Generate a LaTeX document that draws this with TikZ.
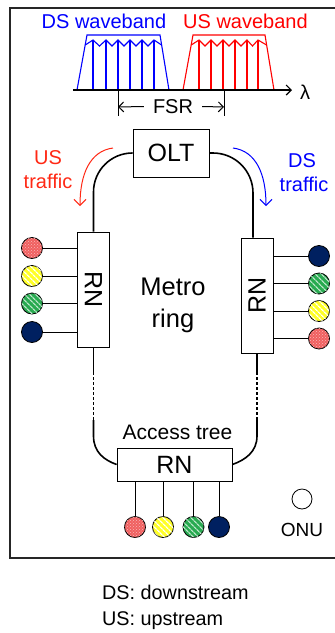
\documentclass[tikz,border=0pt]{standalone}
\usepackage{fontspec}
\setmainfont{Liberation Sans}
\usetikzlibrary{arrows.meta,patterns,patterns.meta}
\definecolor{navy}{RGB}{0,32,96}
\definecolor{onured}{RGB}{240,96,96}
\definecolor{onuyel}{RGB}{255,255,40}
\definecolor{onugrn}{RGB}{40,170,80}
\definecolor{usred}{RGB}{255,40,20}
\begin{document}
\begin{tikzpicture}[x=1pt,y=-1pt,
  fs/.style={font=\fontsize{#1}{#1}\selectfont},
  box/.style={draw, line width=0.8pt, fill=white, inner sep=0pt},
  onu/.style={circle, draw, line width=0.8pt, minimum size=21pt, inner sep=0pt},
  onuR/.style={onu, fill=onured, postaction={pattern=crosshatch dots, pattern color=white!55!onured}},
  onuY/.style={onu, fill=onuyel, postaction={pattern={Lines[angle=-45,distance=4pt,line width=1.3pt]}, pattern color=white}},
  onuG/.style={onu, fill=onugrn, postaction={pattern={Lines[angle=-45,distance=4pt,line width=1.3pt]}, pattern color=white!70!onugrn}},
  onuN/.style={onu, fill=navy},
  ring/.style={line width=1.6pt},
  dotring/.style={line width=1.8pt, dash pattern=on 3pt off 2pt},
  wave/.style={line width=1.1pt},
  tip/.style={-{Straight Barb[length=5pt,width=10pt]}},
  lbl/.style={inner sep=0pt, anchor=base}]
\clip (0,0) rectangle (335,633);
\draw[line width=1.3pt, black!85] (10,8) rectangle (345,558);

% ---------- waveband spectrum ----------
\node[lbl, fs=20, text=blue] (dswb) at (104,28) {DS waveband};
\node[lbl, fs=20, text=red] (uswb) at (245.5,28) {US waveband};
\draw[wave, blue] (77,90) -- (87,35) -- (160,35) -- (169,90);
\foreach \x in {93,106,118,130,142,154} \draw[wave, blue] (\x,90) -- (\x,40);
\draw[wave, blue] (85.2,45) -- (93,40) -- (99.5,46) -- (106,40) -- (112,46) -- (118,40) -- (124,46) -- (130,40) -- (136,46) -- (142,40) -- (148,46) -- (154,40) -- (161.6,45);
\draw[wave, red] (183,90) -- (193,35) -- (265,35) -- (274,90);
\foreach \x in {199,211,223,235,247,258} \draw[wave, red] (\x,90) -- (\x,40);
\draw[wave, red] (191.2,45) -- (199,40) -- (205,46) -- (211,40) -- (217,46) -- (223,40) -- (229,46) -- (235,40) -- (241,46) -- (247,40) -- (252.5,46) -- (258,40) -- (266.6,45);
\coordinate (ax0) at (73,90);
\coordinate (ax1) at (292,90);
\draw[line width=1.2pt, tip] (ax0) -- (ax1);
\node[lbl, fs=20] (lam) at (305,99) {λ};
\draw[line width=1pt] (118,90) -- (118,116);
\draw[line width=1pt] (224,90) -- (224,116);
\coordinate (fsrL) at (118,107);
\coordinate (fsrR) at (224,107);
\node[fs=20, inner xsep=9pt, inner ysep=0pt] (fsr) at (173,106.5) {FSR};
\draw[line width=1pt, tip] (fsr.west) -- (fsrL);
\draw[line width=1pt, tip] (fsr.east) -- (fsrR);

% ---------- OLT and ring ----------
\node[box, minimum width=76pt, minimum height=48pt, fs=25] (olt) at (171,153) {OLT};
\node[box, minimum width=32pt, minimum height=115pt] (rnl) at (93.5,289.5) {};
\node[fs=25, rotate=-90] (rnlt) at (rnl.center) {RN};
\node[box, minimum width=32pt, minimum height=115pt] (rnr) at (257,295.5) {};
\node[fs=25, rotate=90] (rnrt) at (rnr.center) {RN};
\node[box, minimum width=115pt, minimum height=33pt, fs=25] (rnb) at (174.5,464.5) {RN};

\draw[ring, rounded corners=39pt] (olt.west) -| (rnl.north);
\draw[ring, rounded corners=40pt] (olt.east) -| ([xshift=-4pt]rnr.north);

\coordinate (l1) at (93.5,372);
\coordinate (l2) at (93.5,420);
\coordinate (l3) at (93.5,436);
\draw[ring] (rnl.south) -- (l1);
\draw[dotring] (l1) -- (l2);
\draw[ring] (l2) -- (l3) .. controls (93.5,452) and (104,460) .. (rnb.west);
\coordinate (r1) at (257,372);
\coordinate (r2) at (257,420);
\coordinate (r3) at (257,436);
\draw[ring] (rnr.south) -- (r1);
\draw[dotring] (r1) -- (r2);
\draw[ring] (r2) -- (r3) .. controls (257,452) and (245,460) .. (rnb.east);

\node[lbl, fs=25.5] (metro) at (173,295) {Metro};
\node[lbl, fs=25.5] (ringt) at (173,327) {ring};
\node[lbl, fs=21] (acc) at (177.5,439) {Access tree};

% ---------- traffic arrows ----------
\node[lbl, fs=20, text=usred] (ust1) at (48,164) {US};
\node[lbl, fs=20, text=usred] (ust2) at (48,188) {traffic};
\node[lbl, fs=20, text=blue] (dst1) at (302,167) {DS};
\node[lbl, fs=20, text=blue] (dst2) at (304,191) {traffic};
\coordinate (ua) at (113,148);
\coordinate (ub) at (80,206);
\coordinate (da) at (233,148);
\coordinate (db) at (266,206);
\draw[usred, line width=1pt, -{Straight Barb[length=6pt,width=12pt]}] (ua) .. controls (90,151) and (80,174) .. (ub);
\draw[blue, line width=1pt, -{Straight Barb[length=6pt,width=12pt]}] (da) .. controls (256,151) and (266,174) .. (db);

% ---------- ONUs ----------
\node[onuR] (lo1) at (32,248) {};
\node[onuY] (lo2) at (32,276) {};
\node[onuG] (lo3) at (32,303.5) {};
\node[onuN] (lo4) at (32,332) {};
\foreach \n in {lo1,lo2,lo3,lo4} \draw[line width=0.8pt] (\n) -- (\n -| rnl.west);
\node[onuN] (ro1) at (319,256) {};
\node[onuG] (ro2) at (319,283.5) {};
\node[onuY] (ro3) at (319,311) {};
\node[onuR] (ro4) at (319,338.5) {};
\foreach \n in {ro1,ro2,ro3,ro4} \draw[line width=0.8pt] (\n) -- (\n -| rnr.east);
\node[onuR] (bo1) at (135,527) {};
\node[onuY] (bo2) at (163,527) {};
\node[onuG] (bo3) at (193.5,527) {};
\node[onuN] (bo4) at (219,527) {};
\foreach \n in {bo1,bo2,bo3,bo4} \draw[line width=0.8pt] (\n) -- (\n |- rnb.south);

\node[onu, minimum size=20pt] (onuleg) at (302,499) {};
\node[lbl, fs=19] (onut) at (302,536) {ONU};

% ---------- legend ----------
\node[lbl, fs=19.8, anchor=base west] (leg1) at (102,599) {DS: downstream};
\node[lbl, fs=19.8, anchor=base west] (leg2) at (102,625) {US: upstream};
\end{tikzpicture}
\end{document}
